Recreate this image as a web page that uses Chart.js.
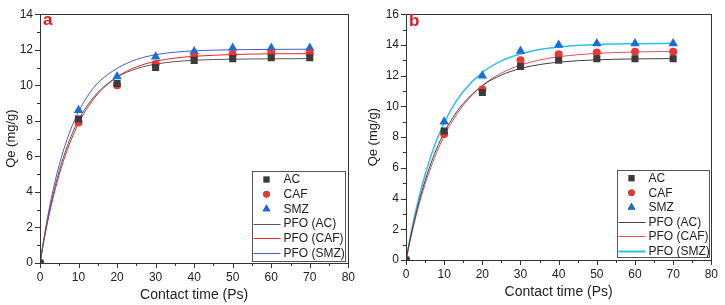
<!DOCTYPE html>
<html>
<head>
<meta charset="utf-8">
<script src="https://cdn.jsdelivr.net/npm/chart.js@4.4.1/dist/chart.umd.min.js"></script>
<style>
  html, body { margin: 0; padding: 0; background: #fff; }
  #wrap { position: relative; width: 725px; height: 305px; }
  #chartA { position: absolute; left: 0; top: 0; }
  #chartB { position: absolute; left: 362px; top: 0; }
</style>
</head>
<body>
<div id="wrap">
  <canvas id="chartA" width="362" height="305"></canvas>
  <canvas id="chartB" width="363" height="305"></canvas>
</div>
<script>
// measured points (contact time, Qe)
const timePts = [0, 10, 20, 30, 40, 50, 60, 70];
const acA  = [0, 8.1, 10.1, 11.0, 11.4, 11.5, 11.55, 11.55];
const cafA = [0, 7.9, 10.0, 11.2, 11.6, 11.75, 11.8, 11.8];
const smzA = [0, 8.6, 10.5, 11.6, 11.9, 12.1, 12.1, 12.1];
const acB  = [0, 8.4, 10.9, 12.6, 13.0, 13.1, 13.1, 13.1];
const cafB = [0, 8.2, 11.1, 13.0, 13.4, 13.5, 13.55, 13.55];
const smzB = [0, 9.0, 12.0, 13.6, 14.0, 14.1, 14.1, 14.1];

// PFO fitted curves
const fitTime = [0, 1, 2, 3, 4, 5, 6, 8, 10, 12, 15, 20, 25, 30, 35, 40, 50, 60, 70];
const pfoAcA  = [0, 1.30, 2.45, 3.48, 4.38, 5.19, 5.90, 7.10, 8.04, 8.77, 9.60, 10.46, 10.93, 11.19, 11.33, 11.41, 11.47, 11.49, 11.50];
const pfoCafA = [0, 1.23, 2.33, 3.31, 4.19, 4.98, 5.69, 6.89, 7.86, 8.63, 9.52, 10.47, 11.03, 11.35, 11.53, 11.63, 11.73, 11.77, 11.78];
const pfoSmzA = [0, 1.39, 2.62, 3.71, 4.68, 5.53, 6.28, 7.53, 8.51, 9.28, 10.13, 10.95, 11.45, 11.72, 11.86, 11.94, 12.00, 12.02, 12.03];
const pfoAcB  = [0, 1.25, 2.38, 3.40, 4.33, 5.16, 5.92, 7.23, 8.29, 9.17, 10.19, 11.35, 12.04, 12.47, 12.72, 12.88, 13.03, 13.09, 13.11];
const pfoCafB = [0, 1.17, 2.24, 3.22, 4.11, 4.93, 5.67, 6.98, 8.07, 8.98, 10.07, 11.35, 12.17, 12.69, 13.02, 13.23, 13.45, 13.54, 13.58];
const pfoSmzB = [0, 1.34, 2.56, 3.66, 4.66, 5.55, 6.37, 7.78, 8.92, 9.87, 10.97, 12.21, 12.96, 13.41, 13.70, 13.87, 14.03, 14.08, 14.11];

const FONT = "'Liberation Sans', Arial, sans-serif";
const TXT = "#222";

const toXY = (xs, ys) => xs.map((x, i) => ({ x: x, y: ys[i] }));

function pointSet(label, ys, style, color, radius) {
  return {
    label: label, type: "scatter", data: toXY(timePts, ys),
    pointStyle: style, pointRadius: radius, pointHoverRadius: radius,
    backgroundColor: color, borderColor: color, borderWidth: 0, order: 1
  };
}

function fitSet(label, ys, color, width) {
  return {
    label: label, type: "line", data: toXY(fitTime, ys),
    borderColor: color, backgroundColor: color, borderWidth: width,
    pointRadius: 0, tension: 0.4, cubicInterpolationMode: "monotone",
    fill: false, order: 2
  };
}

// frame, ticks, legend box and panel letter
const decoPlugin = {
  id: "deco",
  afterDraw(chart, args, opts) {
    const ctx = chart.ctx;
    const a = chart.chartArea;
    const xs = chart.scales.x, ys = chart.scales.y;
    ctx.save();
    ctx.strokeStyle = "#333";
    ctx.lineWidth = 1;
    ctx.strokeRect(Math.round(a.left) + 0.5, Math.round(a.top) + 0.5,
      Math.round(a.right - a.left), Math.round(a.bottom - a.top));

    ctx.beginPath();
    for (let v = 0; v <= 80; v += 5) {
      const px = Math.round(xs.getPixelForValue(v)) + 0.5;
      const len = v % 10 === 0 ? 5 : 3;
      ctx.moveTo(px, a.bottom);
      ctx.lineTo(px, a.bottom + len);
    }
    for (let v = ys.min; v <= ys.max; v += 1) {
      const py = Math.round(ys.getPixelForValue(v)) + 0.5;
      const len = v % 2 === 0 ? 5 : 3;
      ctx.moveTo(a.left, py);
      ctx.lineTo(a.left - len, py);
    }
    ctx.stroke();

    // legend
    const lg = opts.legend;
    const bx = Math.round(a.right - lg.right - lg.w) + 0.5;
    const by = Math.round(a.bottom - lg.bottom - lg.h) + 0.5;
    ctx.fillStyle = "#fff";
    ctx.fillRect(bx, by, lg.w, lg.h);
    ctx.strokeStyle = "#555";
    ctx.strokeRect(bx, by, lg.w, lg.h);
    ctx.font = "12px " + FONT;
    ctx.textBaseline = "middle";
    chart.data.datasets.forEach((ds, i) => {
      const cy = by + lg.first + i * lg.pitch;
      if (ds.type === "scatter") {
        const r = ds.pointStyle === "circle" ? 3.2 : 4.5;
        Chart.helpers.drawPoint(ctx, {
          pointStyle: ds.pointStyle, radius: r, borderWidth: 0
        }, bx + 14, cy);
        ctx.fillStyle = ds.backgroundColor;
        ctx.fill();
      } else {
        ctx.strokeStyle = ds.borderColor;
        ctx.lineWidth = ds.label === "PFO (SMZ)" && lg.thickSmz ? 2 : 1;
        ctx.beginPath();
        ctx.moveTo(bx + 1, Math.round(cy) + 0.5);
        ctx.lineTo(bx + 28, Math.round(cy) + 0.5);
        ctx.stroke();
      }
      ctx.fillStyle = TXT;
      ctx.textAlign = "left";
      ctx.fillText(ds.label, bx + 31, cy + 0.5);
    });

    // panel letter
    ctx.fillStyle = "#e3161d";
    ctx.font = "bold 17px " + FONT;
    ctx.textAlign = "left";
    ctx.textBaseline = "middle";
    ctx.fillText(opts.letter, a.left + 3, a.top + opts.letterDy);
    ctx.restore();
  }
};

function makeChart(id, sets, yMax, layout) {
  const ctx = document.getElementById(id).getContext("2d");
  return new Chart(ctx, {
    data: { datasets: sets },
    plugins: [decoPlugin],
    options: {
      responsive: false,
      animation: false,
      layout: { padding: { top: layout.top, right: layout.right, left: 0, bottom: 0 } },
      plugins: {
        legend: { display: false },
        tooltip: { enabled: false },
        deco: { letter: layout.letter, letterDy: layout.letterDy, legend: layout.legend }
      },
      scales: {
        x: {
          type: "linear", min: 0, max: 80,
          ticks: { stepSize: 10, padding: 7, color: TXT, font: { family: FONT, size: 12 } },
          grid: { display: false, drawTicks: false },
          border: { display: false },
          title: { display: true, text: "Contact time (Ps)", color: TXT,
            font: { family: FONT, size: 14 }, padding: { top: 0, bottom: layout.xTitlePad } },
          afterFit: s => { s.height = layout.xh; }
        },
        y: {
          type: "linear", min: 0, max: yMax,
          ticks: { stepSize: 2, padding: 7, color: TXT, font: { family: FONT, size: 12 } },
          grid: { display: false, drawTicks: false },
          border: { display: false },
          title: { display: true, text: "Qe (mg/g)", color: TXT,
            font: { family: FONT, size: 13 }, padding: { top: 4, bottom: 0 } },
          afterFit: s => { s.width = layout.yw; }
        }
      }
    }
  });
}

makeChart("chartA", [
  pointSet("AC", acA, "rect", "#3b3b3b", 5),
  pointSet("CAF", cafA, "circle", "#ee3535", 4),
  pointSet("SMZ", smzA, "triangle", "#1a6dd6", 5.5),
  fitSet("PFO (AC)", pfoAcA, "#5a5a5a", 1),
  fitSet("PFO (CAF)", pfoCafA, "#e8262b", 1),
  fitSet("PFO (SMZ)", pfoSmzA, "#4a5ad8", 1)
], 14, {
  top: 10, right: 7, xh: 42, yw: 40, xTitlePad: 1, letter: "a", letterDy: 6,
  legend: { w: 93, h: 90, right: 3, bottom: 2, first: 8, pitch: 14.7, thickSmz: false }
});

makeChart("chartB", [
  pointSet("AC", acB, "rect", "#3b3b3b", 5),
  pointSet("CAF", cafB, "circle", "#ee3535", 4),
  pointSet("SMZ", smzB, "triangle", "#1a6dd6", 5.5),
  fitSet("PFO (AC)", pfoAcB, "#3f3f3f", 1),
  fitSet("PFO (CAF)", pfoCafB, "#e2505a", 1),
  fitSet("PFO (SMZ)", pfoSmzB, "#2fc0ea", 1.5)
], 16, {
  top: 12, right: 10, xh: 45, yw: 44, xTitlePad: 4, letter: "b", letterDy: 7,
  legend: { w: 92, h: 87, right: 2, bottom: 3, first: 7.7, pitch: 14.5, thickSmz: true }
});
</script>
</body>
</html>
